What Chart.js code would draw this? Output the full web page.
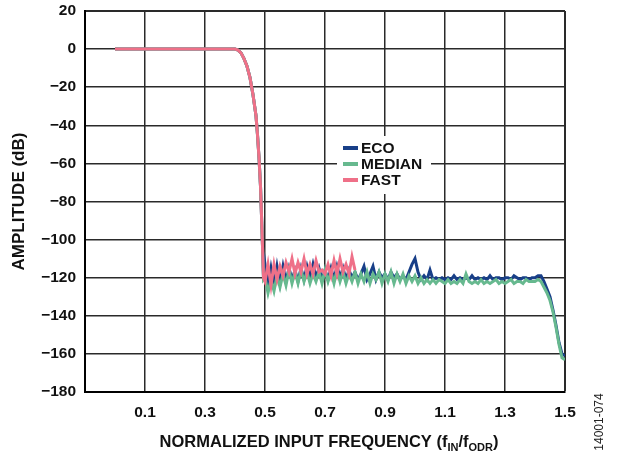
<!DOCTYPE html>
<html lang="en">
  <head>
    <meta charset="UTF-8" />
    <title>Amplitude vs Normalized Input Frequency</title>
    <script src="https://cdn.jsdelivr.net/npm/chart.js@4.4.1/dist/chart.umd.min.js"></script>
    <style>
      html, body { margin: 0; padding: 0; background: #fff; }
      #wrap { width: 620px; height: 454px; position: relative; }
    </style>
  </head>
  <body>
    <div id="wrap"><canvas id="chart" width="620" height="454"></canvas></div>
    <script>
      // passband (shared roll-off shape)
      const passFreq = [0, 0.05, 0.1, 0.15, 0.2, 0.25, 0.3, 0.35, 0.38, 0.4, 0.41, 0.42, 0.43, 0.44, 0.45, 0.46, 0.47, 0.475, 0.48, 0.485, 0.49, 0.495];
      const passEco = [0, 0, 0, 0, 0, 0, 0, 0, 0, 0, -0.5, -2, -5, -9, -15, -24, -35, -45, -57, -72, -95, -120];
      const passMedian = [0, 0, 0, 0, 0, 0, 0, 0, 0, 0, -0.5, -2, -5, -9, -15, -24, -35, -45, -57, -72, -95, -121];
      const passFast = [0, 0, 0, 0, 0, 0, 0, 0, 0, 0, -0.5, -2, -5, -9, -15, -24, -35, -45, -57, -72, -95, -120];

      // stopband, 0.50 .. 1.50
      const stopFreq = [
        0.50, 0.51, 0.52, 0.53, 0.54, 0.55, 0.56, 0.57, 0.58, 0.59,
        0.60, 0.61, 0.62, 0.63, 0.64, 0.65, 0.66, 0.67, 0.68, 0.69,
        0.70, 0.71, 0.72, 0.73, 0.74, 0.75, 0.76, 0.77, 0.78, 0.79,
        0.80, 0.81, 0.82, 0.83, 0.84, 0.85, 0.86, 0.87, 0.88, 0.89,
        0.90, 0.91, 0.92, 0.93, 0.94, 0.95, 0.96, 0.97, 0.98, 0.99,
        1.00, 1.01, 1.02, 1.03, 1.04, 1.05, 1.06, 1.07, 1.08, 1.09,
        1.10, 1.11, 1.12, 1.13, 1.14, 1.15, 1.16, 1.17, 1.18, 1.19,
        1.20, 1.21, 1.22, 1.23, 1.24, 1.25, 1.26, 1.27, 1.28, 1.29,
        1.30, 1.31, 1.32, 1.33, 1.34, 1.35, 1.36, 1.37, 1.38, 1.39,
        1.40, 1.41, 1.42, 1.43, 1.44, 1.45, 1.46, 1.47, 1.48, 1.49,
        1.50
      ];
      const stopEco = [
        -113, -125, -115, -124, -114, -123, -114, -122, -115, -121,
        -116, -122, -115, -121, -114, -120, -113, -120, -115, -121,
        -116, -121, -115, -121, -114, -120, -115, -121, -116, -120,
        -117, -121, -118, -114, -121, -118, -114, -121, -117, -120,
        -118, -121, -117, -120, -118, -121, -119, -121, -117, -113,
        -110, -117, -121, -119, -121, -116, -121, -120, -121, -120,
        -121, -120, -121, -119, -121, -120, -121, -120, -121, -119,
        -121, -120, -121, -120, -121, -119, -121, -120, -120, -121,
        -120, -120, -121, -119, -120, -121, -120, -120, -121, -120,
        -120, -119, -119, -122, -126, -130, -137, -145, -154, -160,
        -161
      ];
      const stopMedian = [
        -120, -128, -121, -127, -119, -125, -118, -124, -116, -123,
        -117, -123, -116, -122, -117, -123, -118, -122, -117, -123,
        -116, -122, -117, -123, -116, -122, -117, -123, -118, -122,
        -117, -123, -118, -122, -117, -123, -118, -121, -117, -123,
        -118, -122, -117, -123, -118, -122, -118, -123, -119, -122,
        -119, -123, -120, -123, -121, -123, -121, -123, -121, -122,
        -123, -121, -123, -122, -123, -121, -123, -118, -122, -123,
        -122, -123, -121, -123, -122, -123, -122, -121, -123, -122,
        -123, -122, -121, -123, -122, -122, -123, -121, -122, -122,
        -122, -121, -122, -125, -128, -132, -138, -146, -155, -162,
        -163
      ];
      // FAST trace stops near 0.8
      const stopFast = [
        -122, -113, -124, -113, -121, -114, -119, -112, -117, -110,
        -118, -112, -117, -110, -118, -113, -118, -111, -117, -116,
        -118, -113, -119, -111, -118, -110, -117, -113, -118, -109,
        -116
      ];

      const xTicks = [-0.1, 0.1, 0.3, 0.5, 0.7, 0.9, 1.1, 1.3, 1.5];

      const seriesNames = ["ECO", "MEDIAN", "FAST"];
      const seriesColors = ["#183f88", "#67b98f", "#ef7088"];

      const FONT = "'Liberation Sans', Arial, Helvetica, sans-serif";

      function toPoints(fx, fy, sx, sy) {
        const pts = fx.map((x, i) => ({ x: x, y: fy[i] }));
        return pts.concat(sy.map((y, i) => ({ x: sx[i], y: y })));
      }

      const datasets = [
        { label: "ECO", data: toPoints(passFreq, passEco, stopFreq, stopEco), borderColor: seriesColors[0], order: 3 },
        { label: "MEDIAN", data: toPoints(passFreq, passMedian, stopFreq, stopMedian), borderColor: seriesColors[1], order: 2 },
        { label: "FAST", data: toPoints(passFreq, passFast, stopFreq, stopFast), borderColor: seriesColors[2], order: 1 },
      ].map((d) => Object.assign(d, { borderWidth: 3, pointRadius: 0, fill: false, tension: 0 }));

      // legend box sitting inside the plot, over the grid
      const legendPlugin = {
        id: "insideLegend",
        afterDatasetsDraw(chart) {
          const c = chart.ctx;
          c.save();
          c.fillStyle = "#fff";
          c.fillRect(337, 136, 94, 58);
          c.font = "bold 15.5px " + FONT;
          c.textBaseline = "middle";
          seriesNames.forEach((name, i) => {
            const y = 148 + i * 16;
            c.fillStyle = seriesColors[i];
            c.fillRect(343, y - 2, 15, 4);
            c.fillStyle = "#111";
            c.fillText(name, 361, y + 1);
          });
          c.restore();
        },
      };

      // x title with subscripts, plus figure number
      const labelsPlugin = {
        id: "extraLabels",
        afterDraw(chart) {
          const c = chart.ctx;
          c.save();
          c.fillStyle = "#111";
          c.textBaseline = "alphabetic";
          const parts = [
            ["NORMALIZED INPUT FREQUENCY (f", 16.5, 0],
            ["IN", 11, 4],
            ["/f", 16.5, 0],
            ["ODR", 11, 4],
            [")", 16.5, 0],
          ];
          let total = 0;
          parts.forEach((p) => {
            c.font = "bold " + p[1] + "px " + FONT;
            total += c.measureText(p[0]).width;
          });
          let x = 329 - total / 2;
          const base = 447;
          parts.forEach((p) => {
            c.font = "bold " + p[1] + "px " + FONT;
            c.fillText(p[0], x, base + p[2]);
            x += c.measureText(p[0]).width;
          });

          c.translate(600, 422);
          c.rotate(-Math.PI / 2);
          c.font = "12px " + FONT;
          c.textAlign = "center";
          c.textBaseline = "middle";
          c.fillStyle = "#222";
          c.fillText("14001-074", 0, 0);
          c.restore();
        },
      };

      new Chart(document.getElementById("chart"), {
        type: "line",
        data: { datasets },
        plugins: [legendPlugin, labelsPlugin],
        options: {
          responsive: false,
          animation: false,
          layout: { padding: { left: 0, right: 55, top: 0, bottom: 0 } },
          plugins: { legend: { display: false }, tooltip: { enabled: false } },
          scales: {
            x: {
              type: "linear",
              min: -0.1,
              max: 1.5,
              afterBuildTicks: (s) => { s.ticks = xTicks.map((v) => ({ value: v })); },
              afterFit: (s) => { s.height = 62; },
              border: { color: "#000", width: 2 },
              grid: {
                color: "#2a2a2a",
                lineWidth: (ctx) => (ctx.tick && ctx.tick.value === 1.5 ? 2 : 1.5),
                drawTicks: false,
              },
              ticks: {
                padding: 11,
                color: "#111",
                font: { family: FONT, size: 15.5, weight: "bold" },
                callback: (v) => (v < 0 ? "" : Number(v).toFixed(1)),
              },
            },
            y: {
              min: -180,
              max: 20,
              afterFit: (s) => { s.width = 85; s.paddingTop = 11; s.paddingBottom = 0; },
              border: { color: "#000", width: 2 },
              grid: {
                color: "#2a2a2a",
                lineWidth: (ctx) => (ctx.tick && ctx.tick.value === 20 ? 2 : 1.5),
                drawTicks: false,
              },
              ticks: {
                stepSize: 20,
                padding: 9,
                color: "#111",
                font: { family: FONT, size: 15.5, weight: "bold" },
                callback: (v) => String(v).replace("-", "\u2212"),
              },
              title: {
                display: true,
                text: "AMPLITUDE (dB)",
                color: "#111",
                padding: { top: 9, bottom: 2 },
                font: { family: FONT, size: 17, weight: "bold" },
              },
            },
          },
        },
      });
    </script>
  </body>
</html>
